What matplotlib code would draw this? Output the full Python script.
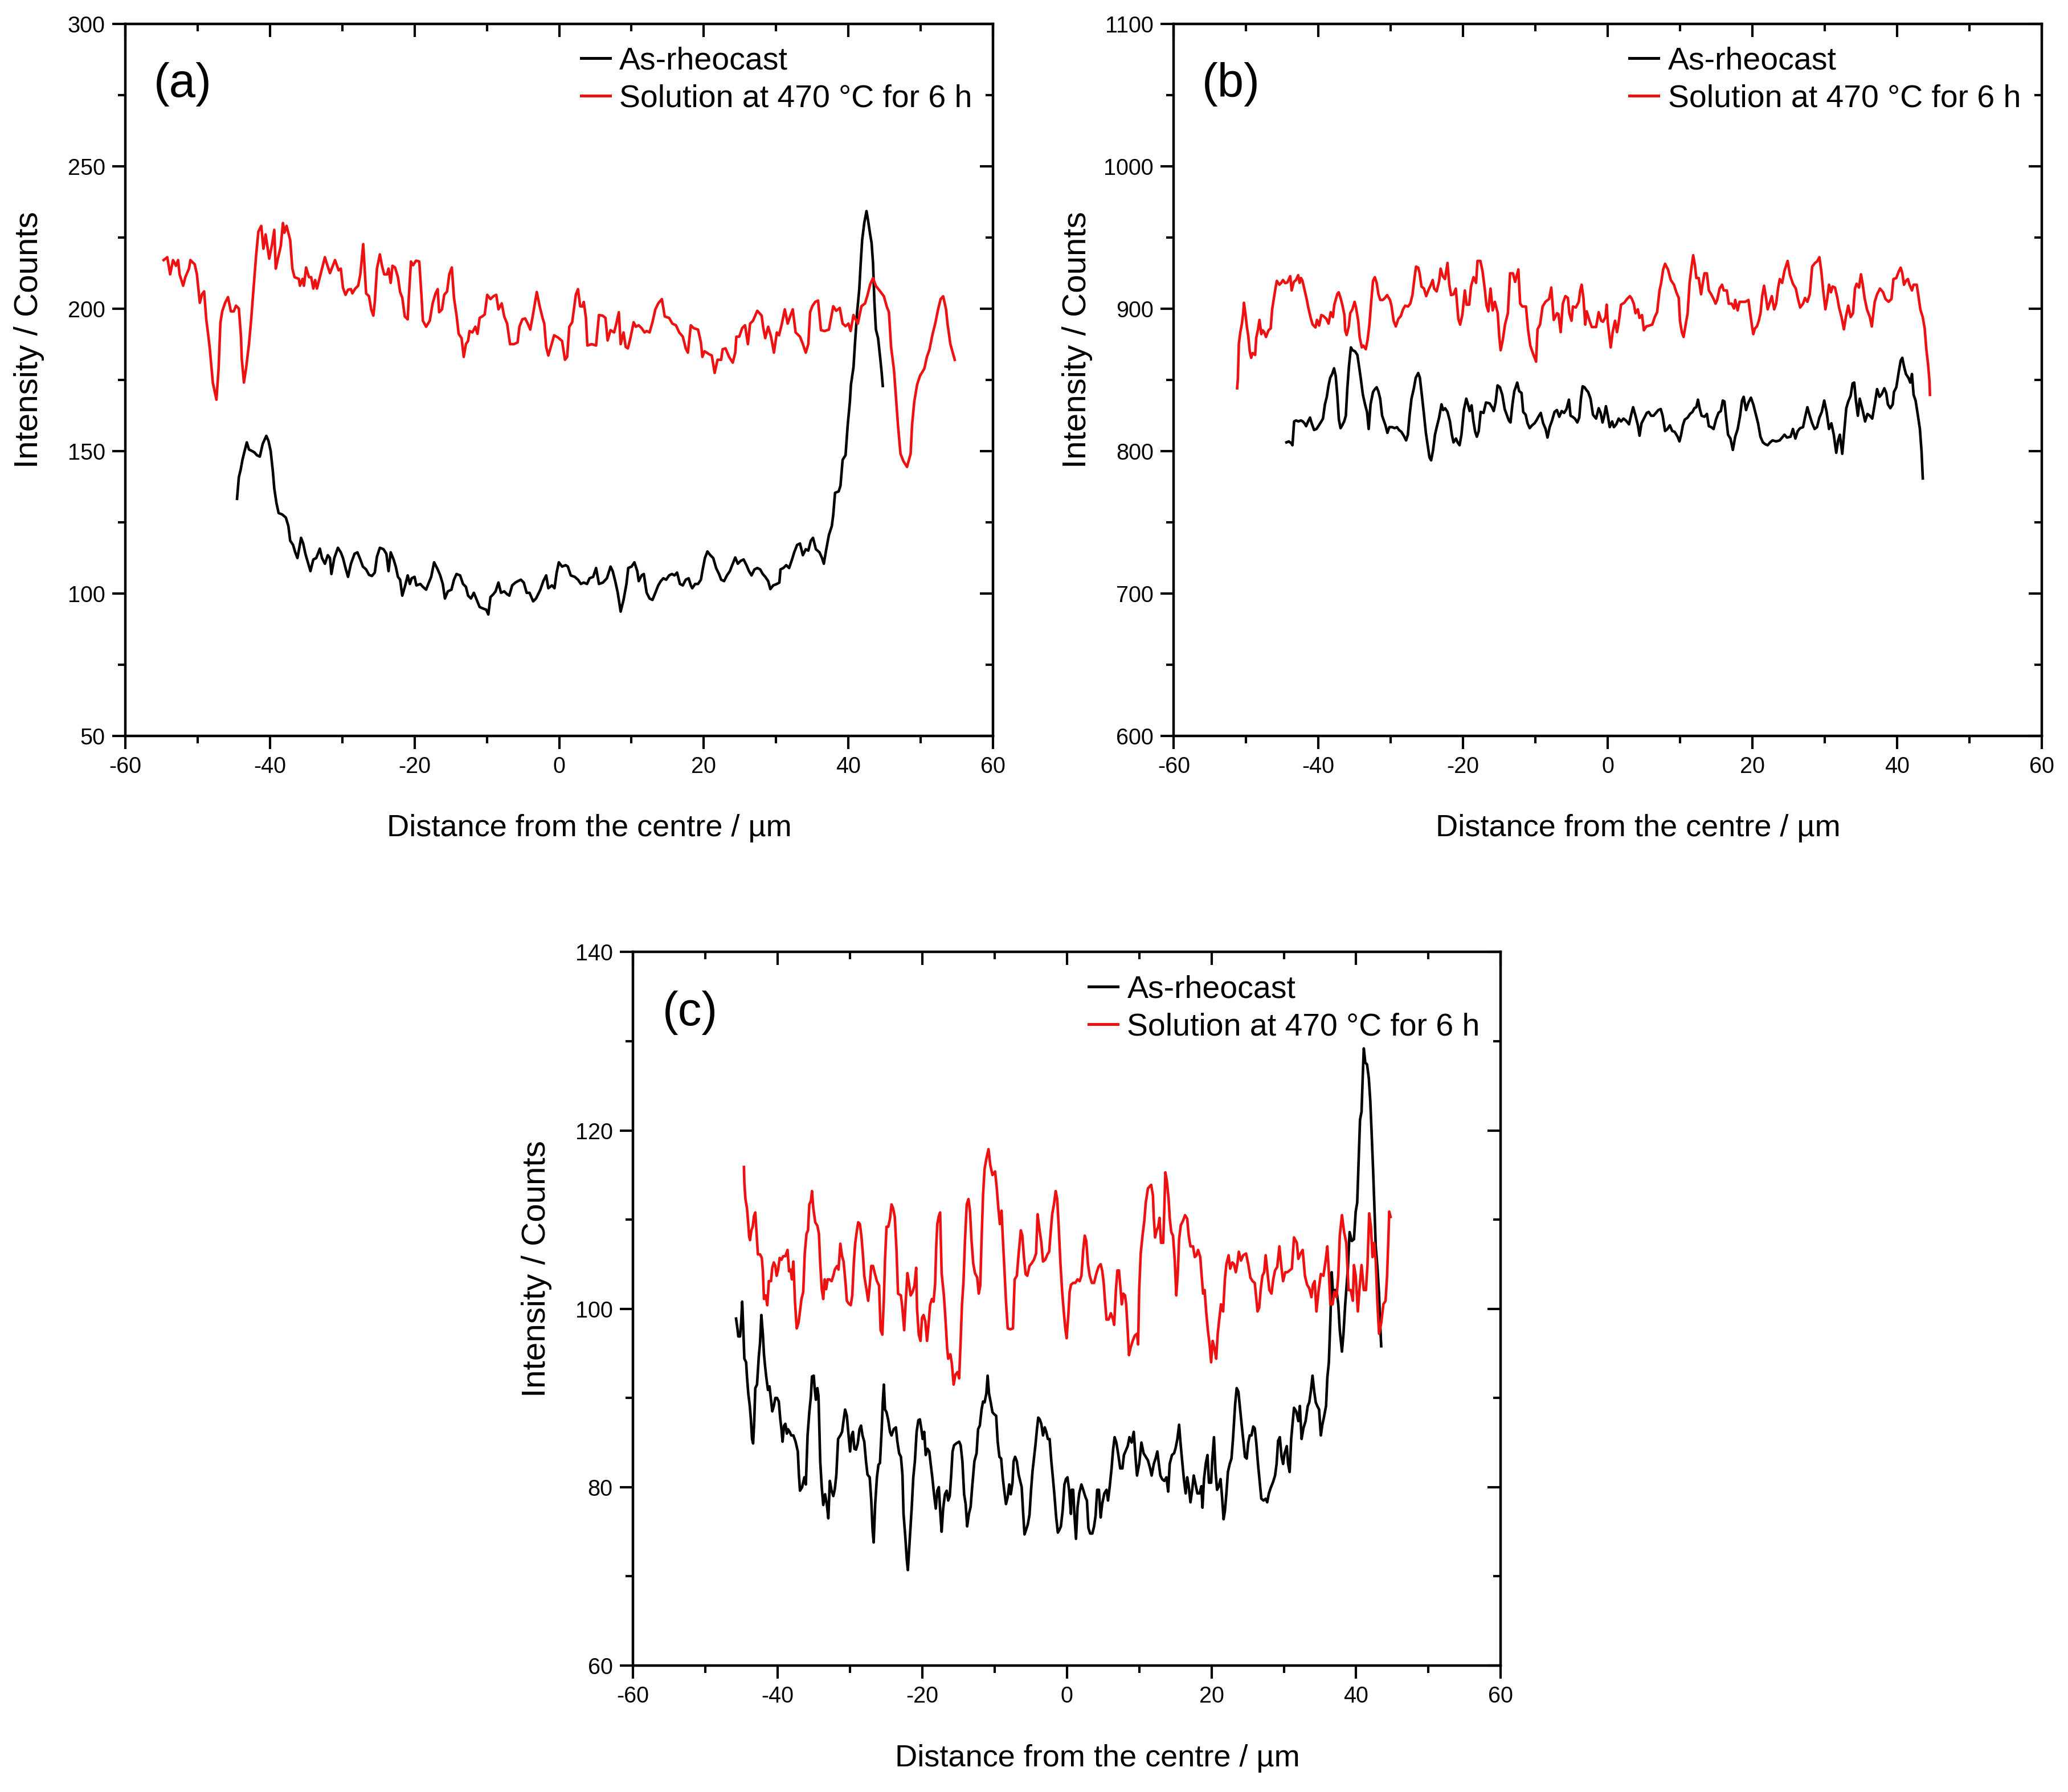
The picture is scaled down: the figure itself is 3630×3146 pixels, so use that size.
import matplotlib
matplotlib.use('Agg')
import matplotlib.pyplot as plt
from matplotlib.ticker import MultipleLocator

plt.rcParams['font.family'] = ['Liberation Sans', 'DejaVu Sans']
plt.rcParams['axes.unicode_minus'] = False

# ---------------- data (distance / um, intensity / counts) ----------------
a_black = [(-44.55,133.2),(-44.3,140.8),(-44.05,143.4),(-43.8,146.9),(-43.5,150.0),(-43.2,153.0),(-42.9,150.5),(-42.5,150.0),(-42.15,149.5),(-41.8,148.5),(-41.4,148.0),(-41.0,152.5),(-40.5,155.3),(-40.2,153.5),(-39.9,150.0),(-39.6,142.9),(-39.4,136.8),(-39.1,131.7),(-38.8,128.2),(-38.3,127.7),(-37.8,126.6),(-37.45,123.6),(-37.2,118.5),(-36.8,117.0),(-36.5,114.4),(-36.2,112.4),(-35.9,116.5),(-35.7,119.5),(-35.4,117.5),(-35.1,113.9),(-34.7,110.4),(-34.4,107.8),(-34.0,111.9),(-33.6,112.4),(-33.1,115.7),(-32.8,112.4),(-32.4,110.4),(-32.0,113.4),(-31.7,112.4),(-31.5,106.8),(-31.1,112.4),(-30.6,116.0),(-30.2,114.4),(-29.9,112.4),(-29.55,108.9),(-29.2,105.8),(-28.8,110.4),(-28.3,113.9),(-27.9,114.4),(-27.5,111.9),(-27.15,109.4),(-26.7,108.4),(-26.3,106.5),(-25.9,106.1),(-25.5,107.3),(-25.2,112.9),(-24.8,116.0),(-24.3,115.5),(-23.9,113.9),(-23.6,107.8),(-23.3,114.4),(-22.9,111.9),(-22.6,109.4),(-22.3,105.8),(-22.0,104.8),(-21.7,99.2),(-21.35,102.3),(-20.95,106.3),(-20.65,103.3),(-20.4,105.3),(-20.0,105.8),(-19.75,102.8),(-19.2,103.3),(-18.85,102.3),(-18.4,101.3),(-18.1,103.3),(-17.7,105.8),(-17.3,110.9),(-16.8,108.4),(-16.45,106.3),(-16.1,103.3),(-15.8,98.2),(-15.4,100.7),(-14.9,101.3),(-14.55,104.8),(-14.2,106.8),(-13.7,106.3),(-13.3,103.3),(-12.9,102.3),(-12.6,99.2),(-12.2,98.2),(-11.8,100.2),(-11.4,97.7),(-11.0,95.2),(-10.45,94.6),(-10.1,94.3),(-9.8,92.6),(-9.5,98.7),(-9.1,99.7),(-8.8,100.7),(-8.4,103.8),(-8.05,100.2),(-7.6,100.7),(-7.2,99.7),(-6.9,99.2),(-6.5,102.8),(-6.05,103.8),(-5.7,104.3),(-5.3,104.8),(-4.9,103.8),(-4.5,100.2),(-4.1,100.2),(-3.6,97.2),(-3.2,98.2),(-2.6,101.3),(-2.2,104.3),(-1.8,106.3),(-1.5,101.8),(-1.0,102.8),(-0.65,101.8),(-0.35,107.3),(-0.05,110.9),(0.4,109.4),(0.9,109.9),(1.2,109.4),(1.6,106.3),(2.15,105.8),(2.6,104.8),(3.0,103.3),(3.4,103.8),(3.85,103.3),(4.2,105.3),(4.7,105.8),(5.1,108.9),(5.5,103.3),(6.05,103.8),(6.6,105.3),(7.1,109.4),(7.4,107.8),(7.75,104.3),(8.1,100.2),(8.5,93.6),(8.9,97.7),(9.3,103.3),(9.55,108.9),(10.0,109.4),(10.4,110.9),(10.8,107.8),(11.0,104.3),(11.4,106.3),(11.7,106.8),(12.1,100.2),(12.5,98.2),(12.9,97.7),(13.3,100.2),(13.7,102.8),(14.05,104.3),(14.4,105.3),(14.8,104.8),(15.2,106.3),(15.6,106.8),(15.95,106.3),(16.3,107.3),(16.7,103.3),(17.1,102.8),(17.5,104.8),(17.9,105.3),(18.2,102.8),(18.4,101.8),(18.8,103.3),(19.2,103.3),(19.6,104.8),(19.8,107.8),(20.15,112.4),(20.5,114.7),(20.9,113.4),(21.3,112.4),(21.7,108.9),(22.1,106.8),(22.4,104.8),(22.8,104.3),(23.2,106.3),(23.6,107.8),(24.0,110.4),(24.35,112.6),(24.7,110.4),(25.1,111.4),(25.5,111.9),(25.9,109.9),(26.25,107.8),(26.6,106.3),(27.0,108.4),(27.4,108.9),(27.8,108.4),(28.15,106.8),(28.5,105.8),(28.9,104.3),(29.2,101.5),(29.6,102.8),(30.1,103.3),(30.45,103.8),(30.6,108.4),(31.0,108.9),(31.4,109.9),(31.8,108.9),(32.2,111.9),(32.5,114.4),(32.9,117.0),(33.3,117.5),(33.7,113.4),(34.1,115.5),(34.45,115.0),(34.8,118.5),(35.1,119.5),(35.5,115.5),(36.0,114.4),(36.35,112.4),(36.6,110.4),(36.9,115.0),(37.3,120.5),(37.7,123.6),(37.9,127.6),(38.15,135.3),(38.65,135.8),(38.9,137.8),(39.2,146.9),(39.6,148.5),(39.9,159.1),(40.2,167.2),(40.35,173.3),(40.7,179.4),(40.9,187.5),(41.2,198.7),(41.5,206.8),(41.7,216.0),(41.9,224.1),(42.2,230.2),(42.5,234.2),(42.7,231.2),(43.0,226.1),(43.2,223.1),(43.4,216.0),(43.6,201.8),(43.8,192.6),(44.1,189.6),(44.4,182.5),(44.6,177.4),(44.75,172.8)]

a_red = [(-54.7,217),(-54.2,218),(-53.8,212),(-53.4,217),(-53.0,215),(-52.7,217),(-52.5,212),(-52.0,208),(-51.7,211),(-51.2,214),(-51.0,217),(-50.4,215.5),(-50.1,212),(-49.7,202),(-49.4,205),(-49.1,206),(-48.8,196),(-48.5,190),(-48.3,185.5),(-47.9,174),(-47.4,168),(-47.1,179),(-46.85,195),(-46.6,199),(-46.2,202),(-45.8,204),(-45.4,199),(-45.0,199),(-44.7,201),(-44.3,200),(-44.0,190),(-43.9,182.5),(-43.6,174),(-43.3,179),(-42.9,187.5),(-42.6,196),(-42.3,206),(-41.9,219),(-41.6,227),(-41.2,229),(-40.9,221),(-40.6,226),(-40.1,217.5),(-39.7,222.6),(-39.4,227.6),(-39.2,214),(-38.9,217.5),(-38.5,222),(-38.2,230),(-38.0,226.6),(-37.7,229),(-37.2,224),(-36.9,214),(-36.6,211),(-36.0,210.4),(-35.85,208),(-35.5,210.4),(-35.3,208),(-35.0,214.4),(-34.6,211),(-34.3,211),(-34.0,207),(-33.75,210),(-33.5,207),(-33.2,210),(-32.8,214),(-32.4,218),(-32.1,215.5),(-31.7,212.4),(-31.3,215),(-31.0,217),(-30.5,213.4),(-30.2,214),(-29.9,207.3),(-29.55,204.8),(-29.2,206.6),(-28.8,206.8),(-28.6,205.3),(-28.2,207),(-27.8,208),(-27.5,212),(-27.1,222.6),(-26.9,214),(-26.7,205.3),(-26.3,204.3),(-26.0,199.7),(-25.7,197.5),(-25.5,202.3),(-25.2,214),(-24.8,219),(-24.5,215),(-24.2,212),(-23.8,212),(-23.6,214),(-23.3,209),(-23.05,215),(-22.7,214.4),(-22.3,211),(-22.0,205.8),(-21.7,203.8),(-21.35,197.2),(-20.95,196.2),(-20.8,203.8),(-20.5,216.5),(-20.2,215.2),(-19.8,216.8),(-19.35,216.5),(-19.05,204.8),(-18.85,195.7),(-18.4,193.6),(-17.9,195.7),(-17.5,201.8),(-17.1,205.3),(-16.8,206.8),(-16.6,198.7),(-16.2,199.7),(-15.9,204.8),(-15.5,206),(-15.2,212),(-14.85,214.4),(-14.55,203.8),(-14.2,197.7),(-13.9,191.1),(-13.5,189.6),(-13.2,183),(-12.9,187.5),(-12.6,188.6),(-12.4,192.1),(-12.0,191.6),(-11.6,193.6),(-11.3,191.1),(-11.0,196.7),(-10.65,197.2),(-10.3,197.9),(-9.95,204.8),(-9.5,203.3),(-9.1,204.3),(-8.7,204.8),(-8.4,199.7),(-7.95,201.8),(-7.6,197.2),(-7.2,194.7),(-6.8,187.5),(-6.25,187.5),(-5.75,188.1),(-5.5,193.6),(-5.1,196.2),(-4.7,196.5),(-4.35,194.7),(-4.0,192.6),(-3.6,198.2),(-3.1,205.8),(-2.7,200.8),(-2.3,196.7),(-2.06,194.7),(-1.8,186.5),(-1.5,183.5),(-1.1,187),(-0.7,190.6),(-0.15,189.8),(0.4,188.6),(0.8,182),(1.1,183),(1.4,193.6),(1.8,195.2),(2.3,204.8),(2.6,206.8),(2.9,200.8),(3.2,200.7),(3.4,202.3),(3.7,196.7),(3.9,187),(4.5,187.5),(5.1,187),(5.5,197.7),(6.0,197.5),(6.4,196.7),(6.7,188.8),(7.1,192.4),(7.6,191.6),(7.9,194.7),(8.25,198.7),(8.5,187.5),(8.9,191.6),(9.2,186.5),(9.5,186),(9.85,189.6),(10.3,195.2),(10.6,193.6),(11.0,194.1),(11.4,193.1),(11.8,191.6),(12.1,192.1),(12.5,191.6),(12.9,195.2),(13.3,199.7),(13.7,201.8),(14.2,203.3),(14.6,197.2),(15.2,196.7),(15.65,194.7),(16.15,194.1),(16.6,191.6),(17.1,190.1),(17.5,186),(17.8,184.5),(18.2,194.1),(18.6,193.1),(19.2,192.6),(19.6,188.1),(19.8,183),(20.1,185),(20.7,184),(21.1,183.5),(21.5,177.4),(21.9,182),(22.4,182),(22.6,185.7),(23.0,186),(23.5,183),(24.0,181),(24.35,184.5),(24.5,190.1),(24.9,190.1),(25.3,193.1),(25.7,194.1),(26.1,187.5),(26.4,194.7),(26.8,195.7),(27.4,199.2),(28.0,197.5),(28.2,193.6),(28.5,189.6),(28.9,193.6),(29.3,190.1),(29.7,184.5),(30.1,191.6),(30.4,190.6),(30.8,194.7),(31.2,199.7),(31.6,194.7),(32.0,197.7),(32.3,199.7),(32.7,191.6),(33.3,190.1),(33.7,187.5),(34.1,184.5),(34.45,187.5),(34.7,198.7),(35.0,200.8),(35.4,202.3),(35.8,202.8),(36.2,192.4),(36.7,192.1),(37.3,192.6),(37.6,196.7),(37.9,200.8),(38.3,199.2),(38.8,200.2),(39.2,194.7),(39.6,193.8),(40.0,194.7),(40.3,192.1),(40.7,197.7),(41.3,194.7),(41.8,200.8),(42.3,201.8),(42.65,204.8),(43.0,208.4),(43.4,210.7),(43.8,207.9),(44.4,206),(44.9,204.3),(45.3,200.7),(45.6,198.7),(45.9,186.5),(46.3,178.4),(46.65,166.2),(46.85,159.1),(47.2,149),(47.6,146.4),(48.1,144.4),(48.6,149),(48.8,159.1),(49.1,167.2),(49.5,173.3),(49.9,176.4),(50.5,178.9),(50.85,183),(51.2,185.5),(51.6,190.6),(52.0,194.7),(52.4,199.7),(52.75,203.3),(53.1,204.3),(53.5,199.7),(53.7,194.7),(54.1,187.5),(54.7,182)]

b_black = [(-44.42,806.0),(-44.09,806.7),(-43.76,805.4),(-43.59,804.0),(-43.36,820.7),(-43.09,821.4),(-42.76,820.7),(-42.43,821.4),(-42.16,820.7),(-41.93,819.4),(-41.7,817.4),(-41.43,820.7),(-41.16,823.4),(-40.93,819.4),(-40.6,814.7),(-40.27,815.4),(-39.93,818.0),(-39.6,820.7),(-39.37,822.7),(-39.1,832.7),(-38.84,838.0),(-38.6,846.0),(-38.37,851.4),(-38.1,854.0),(-37.84,858.0),(-37.61,852.7),(-37.37,838.0),(-37.17,822.0),(-36.94,816.0),(-36.71,818.0),(-36.44,820.7),(-36.21,824.7),(-36.01,843.4),(-35.78,859.4),(-35.51,872.7),(-35.28,870.7),(-34.95,870.0),(-34.61,867.4),(-34.38,859.4),(-34.12,850.0),(-33.85,839.4),(-33.52,832.0),(-33.28,827.4),(-33.05,815.4),(-32.79,832.7),(-32.45,841.4),(-32.19,843.4),(-31.95,844.7),(-31.72,842.0),(-31.46,836.7),(-31.19,824.7),(-30.96,821.4),(-30.73,818.0),(-30.46,812.7),(-30.19,816.7),(-29.79,816.7),(-29.46,816.0),(-29.13,816.7),(-28.86,814.7),(-28.53,813.4),(-28.2,810.7),(-27.87,807.4),(-27.63,811.4),(-27.4,824.7),(-27.13,836.7),(-26.8,844.0),(-26.54,851.4),(-26.2,854.7),(-25.97,851.4),(-25.64,836.7),(-25.41,826.0),(-25.14,812.7),(-24.87,803.4),(-24.64,795.4),(-24.41,793.4),(-24.14,800.7),(-23.88,811.4),(-23.64,816.7),(-23.31,823.4),(-22.98,832.7),(-22.75,828.7),(-22.48,830.0),(-22.15,827.4),(-21.81,820.7),(-21.55,811.4),(-21.32,806.0),(-20.98,808.7),(-20.75,806.0),(-20.48,804.0),(-20.22,811.4),(-19.89,828.7),(-19.55,836.7),(-19.32,832.7),(-19.09,828.0),(-18.82,832.0),(-18.56,820.7),(-18.32,813.4),(-18.09,810.0),(-17.83,814.0),(-17.56,827.4),(-17.16,826.7),(-16.83,834.0),(-16.33,833.4),(-16.0,830.7),(-15.76,828.0),(-15.5,834.0),(-15.23,846.0),(-14.9,844.7),(-14.57,839.4),(-14.24,829.4),(-14.0,826.0),(-13.67,821.4),(-13.44,820.0),(-13.17,832.7),(-12.91,842.0),(-12.67,845.4),(-12.51,848.0),(-12.24,842.0),(-11.91,840.7),(-11.68,827.4),(-11.34,825.4),(-11.08,819.4),(-10.78,816.0),(-10.45,818.0),(-10.11,819.4),(-9.85,821.4),(-9.58,824.0),(-9.25,826.7),(-8.92,819.4),(-8.58,815.4),(-8.32,809.4),(-8.02,816.7),(-7.69,821.4),(-7.35,827.4),(-7.02,828.7),(-6.69,824.0),(-6.36,828.0),(-6.02,826.7),(-5.69,829.4),(-5.36,836.0),(-5.13,824.7),(-4.86,824.0),(-4.53,822.7),(-4.2,820.0),(-3.93,823.4),(-3.7,836.7),(-3.46,845.4),(-3.2,844.7),(-2.93,842.7),(-2.7,841.4),(-2.37,836.7),(-2.03,825.4),(-1.6,822.7),(-1.24,830.0),(-0.97,826.7),(-0.71,820.0),(-0.47,824.7),(-0.24,831.4),(0.02,824.7),(0.29,816.7),(0.62,820.7),(0.86,816.7),(1.19,818.7),(1.52,822.7),(1.85,820.7),(2.19,822.7),(2.52,821.4),(2.95,818.7),(3.28,826.0),(3.52,830.7),(3.85,824.7),(4.18,818.0),(4.41,810.7),(4.68,819.4),(5.01,822.7),(5.41,826.7),(5.68,827.4),(6.01,824.7),(6.34,824.7),(6.67,826.7),(7.01,828.7),(7.34,829.4),(7.6,824.7),(7.94,814.0),(8.27,815.4),(8.6,818.0),(8.93,814.0),(9.27,813.4),(9.67,810.0),(9.93,806.7),(10.16,811.4),(10.4,818.0),(10.66,822.0),(11.06,823.4),(11.39,826.0),(11.73,827.4),(11.99,830.0),(12.26,830.7),(12.49,836.0),(12.72,830.0),(12.99,824.7),(13.39,824.0),(13.72,826.0),(13.99,817.4),(14.32,816.7),(14.65,815.4),(14.98,822.0),(15.32,826.7),(15.65,828.0),(15.92,835.4),(16.15,834.7),(16.38,823.4),(16.65,811.4),(16.98,808.7),(17.31,800.7),(17.64,810.0),(17.98,815.4),(18.31,824.7),(18.58,835.4),(18.81,838.0),(19.14,828.7),(19.47,834.0),(19.81,837.4),(20.14,832.7),(20.47,826.0),(20.8,819.4),(21.13,810.0),(21.47,806.0),(21.8,804.7),(22.13,804.0),(22.46,806.0),(22.8,807.4),(23.3,806.7),(23.79,807.4),(24.13,809.4),(24.46,811.4),(24.79,809.4),(25.29,810.0),(25.62,815.4),(25.96,808.7),(26.29,814.0),(26.62,816.0),(27.02,816.7),(27.29,823.4),(27.62,830.7),(27.95,824.7),(28.28,819.4),(28.62,815.4),(28.95,816.7),(29.28,823.4),(29.61,827.4),(29.95,835.4),(30.28,827.4),(30.61,815.4),(30.94,819.4),(31.27,811.4),(31.61,798.7),(31.87,807.4),(32.11,811.4),(32.44,798.0),(32.77,816.7),(33.0,830.0),(33.27,834.7),(33.6,838.7),(33.87,847.4),(34.1,848.0),(34.33,835.4),(34.6,824.7),(34.86,836.7),(35.26,828.7),(35.6,820.7),(35.93,826.0),(36.26,824.7),(36.59,822.7),(36.93,832.7),(37.26,843.4),(37.59,838.0),(37.92,840.0),(38.26,844.0),(38.52,840.7),(38.75,832.7),(39.09,830.0),(39.42,832.7),(39.59,841.4),(39.92,844.7),(40.25,855.4),(40.52,863.4),(40.75,865.4),(40.98,859.4),(41.25,854.0),(41.58,851.4),(41.85,848.0),(42.08,854.0),(42.31,839.4),(42.58,835.4),(42.91,824.7),(43.18,815.4),(43.41,799.4),(43.58,780.7)]

b_red = [(-51.24,844.0),(-51.14,850.7),(-51.0,875.4),(-50.8,883.4),(-50.6,888.7),(-50.4,896.7),(-50.3,904.0),(-50.1,896.7),(-49.9,887.4),(-49.7,880.7),(-49.5,870.0),(-49.3,865.4),(-49.1,868.7),(-48.75,867.4),(-48.6,879.4),(-48.35,885.4),(-48.15,892.0),(-47.9,882.0),(-47.7,884.7),(-47.5,883.4),(-47.25,880.0),(-46.9,884.7),(-46.6,886.0),(-46.4,899.4),(-46.15,907.4),(-45.9,915.4),(-45.75,919.4),(-45.4,916.7),(-45.15,918.0),(-44.9,920.0),(-44.6,917.8),(-44.3,918.3),(-43.9,922.7),(-43.7,912.7),(-43.4,918.7),(-43.1,920.0),(-42.8,923.4),(-42.6,918.0),(-42.4,921.4),(-42.2,919.4),(-41.9,912.7),(-41.6,906.0),(-41.4,900.7),(-41.1,894.0),(-40.8,888.7),(-40.4,886.7),(-40.2,892.0),(-39.9,888.0),(-39.6,895.4),(-39.3,894.7),(-38.9,892.7),(-38.6,889.4),(-38.3,897.4),(-38.0,894.0),(-37.8,902.7),(-37.4,910.0),(-37.2,911.4),(-36.9,906.7),(-36.7,902.7),(-36.4,895.4),(-36.3,884.7),(-36.1,881.4),(-35.8,887.4),(-35.6,896.7),(-35.3,899.4),(-35.0,904.7),(-34.8,900.7),(-34.5,891.4),(-34.3,880.0),(-34.0,872.7),(-33.8,874.0),(-33.45,871.4),(-33.2,878.0),(-32.95,888.7),(-32.7,904.7),(-32.45,919.4),(-32.2,922.0),(-31.95,918.0),(-31.7,910.0),(-31.45,906.0),(-31.1,906.0),(-30.8,907.4),(-30.5,909.4),(-30.1,906.0),(-29.9,902.0),(-29.6,891.4),(-29.3,887.4),(-28.95,892.7),(-28.6,894.7),(-28.3,899.4),(-28.0,902.0),(-27.6,901.4),(-27.3,903.4),(-27.0,909.4),(-26.75,920.0),(-26.5,929.4),(-26.2,928.7),(-26.0,924.7),(-25.75,915.4),(-25.4,914.0),(-25.1,908.7),(-24.75,913.4),(-24.5,916.0),(-24.2,920.0),(-24.0,914.0),(-23.65,912.0),(-23.3,919.4),(-23.1,928.0),(-22.8,922.7),(-22.5,920.7),(-22.15,932.0),(-21.9,916.7),(-21.65,909.4),(-21.3,910.0),(-21.0,914.0),(-20.65,892.7),(-20.4,888.7),(-20.1,895.4),(-19.75,912.7),(-19.5,902.7),(-19.15,902.7),(-18.9,915.4),(-18.55,922.0),(-18.2,918.0),(-18.0,933.4),(-17.6,933.4),(-17.3,926.0),(-17.0,914.0),(-16.75,902.0),(-16.5,898.0),(-16.2,914.0),(-15.9,898.7),(-15.6,904.7),(-15.2,896.7),(-15.0,880.7),(-14.8,870.7),(-14.5,878.0),(-14.2,888.7),(-13.8,896.7),(-13.5,924.7),(-13.1,924.7),(-12.8,918.7),(-12.35,927.4),(-12.1,903.4),(-11.8,901.4),(-11.3,901.4),(-11.0,884.7),(-10.7,874.0),(-10.35,868.7),(-9.9,862.7),(-9.7,885.4),(-9.35,888.7),(-9.0,901.4),(-8.6,904.7),(-8.1,906.7),(-7.8,914.7),(-7.45,892.0),(-7.0,896.7),(-6.8,896.0),(-6.5,883.4),(-6.2,903.4),(-5.85,908.7),(-5.5,907.4),(-5.3,896.7),(-5.0,891.4),(-4.8,901.4),(-4.4,900.7),(-4.0,904.7),(-3.8,912.7),(-3.6,916.7),(-3.35,907.4),(-3.1,888.7),(-2.9,898.0),(-2.5,891.4),(-2.2,887.0),(-1.6,887.0),(-1.24,897.4),(-0.9,891.4),(-0.64,890.7),(-0.3,894.0),(-0.14,902.7),(0.02,890.0),(0.3,878.0),(0.42,872.7),(0.69,883.4),(1.02,891.4),(1.29,883.4),(1.52,890.0),(1.85,902.7),(2.29,904.0),(2.68,906.7),(3.08,908.7),(3.35,906.7),(3.61,903.4),(3.85,896.7),(4.18,899.4),(4.41,893.4),(4.75,895.4),(5.01,884.7),(5.34,887.4),(5.74,888.0),(6.17,888.7),(6.51,894.0),(6.84,897.4),(7.17,912.7),(7.4,918.0),(7.67,927.4),(7.94,931.4),(8.34,927.4),(8.73,920.0),(9.17,916.7),(9.5,911.4),(9.83,907.4),(10.0,891.4),(10.26,883.4),(10.5,880.0),(10.83,890.0),(11.06,896.7),(11.33,918.0),(11.59,928.7),(11.83,937.4),(12.06,930.7),(12.26,921.4),(12.59,921.4),(12.92,910.0),(13.16,918.0),(13.39,924.7),(13.72,924.7),(13.99,912.7),(14.32,910.0),(14.65,906.7),(14.92,903.4),(15.15,906.0),(15.48,914.0),(15.82,916.7),(16.05,912.7),(16.48,912.7),(16.75,903.4),(17.15,903.4),(17.48,900.0),(17.64,906.0),(17.98,898.7),(18.24,904.7),(18.64,904.7),(19.04,904.7),(19.47,906.0),(19.71,896.7),(19.97,887.4),(20.14,882.0),(20.37,886.0),(20.64,887.4),(20.9,891.4),(21.14,896.7),(21.37,908.7),(21.63,916.0),(21.9,907.4),(22.13,899.4),(22.46,904.7),(22.7,908.7),(23.03,899.4),(23.3,903.4),(23.56,914.0),(23.8,920.7),(24.13,918.0),(24.46,926.7),(24.89,933.4),(25.22,923.4),(25.62,917.4),(26.02,914.0),(26.29,907.4),(26.62,900.7),(27.02,903.4),(27.29,907.4),(27.62,904.7),(27.95,910.0),(28.28,929.4),(28.68,932.0),(28.95,933.0),(29.28,936.0),(29.55,926.0),(29.78,914.0),(30.11,899.4),(30.34,906.0),(30.61,916.7),(30.88,911.4),(31.11,915.4),(31.44,914.7),(31.77,907.4),(32.0,900.7),(32.34,894.0),(32.67,885.4),(32.94,894.0),(33.27,902.0),(33.6,894.0),(33.93,896.7),(34.2,914.0),(34.43,917.4),(34.76,914.7),(35.03,924.0),(35.26,917.4),(35.53,907.4),(35.86,899.4),(36.26,894.0),(36.53,887.4),(36.93,904.7),(37.26,910.0),(37.66,914.0),(38.09,911.4),(38.42,906.7),(38.85,904.7),(39.25,906.7),(39.52,920.7),(39.92,921.4),(40.25,926.0),(40.52,928.7),(40.75,924.7),(40.98,916.7),(41.25,919.4),(41.52,920.7),(41.75,916.7),(42.08,912.7),(42.31,916.7),(42.74,916.7),(42.98,908.7),(43.24,899.4),(43.57,894.0),(43.84,886.0),(44.07,871.4),(44.31,860.7),(44.51,848.7),(44.57,839.4)]

c_black = [(-45.75,98.9),(-45.56,97.8),(-45.44,96.9),(-45.2,96.9),(-45.05,98.4),(-44.9,100.8),(-44.75,97.7),(-44.6,94.4),(-44.36,94.0),(-44.24,92.4),(-44.06,90.5),(-43.85,89.1),(-43.7,87.6),(-43.54,85.4),(-43.39,84.9),(-43.24,87.3),(-43.09,91.1),(-42.85,91.5),(-42.73,93.1),(-42.61,94.6),(-42.43,96.2),(-42.25,99.3),(-42.04,97.1),(-41.89,94.9),(-41.74,93.6),(-41.58,92.4),(-41.34,90.9),(-41.13,91.3),(-40.92,89.8),(-40.74,88.5),(-40.53,89.1),(-40.32,90.0),(-40.08,90.0),(-39.84,89.6),(-39.63,87.6),(-39.47,86.5),(-39.32,85.1),(-39.11,86.9),(-38.93,87.1),(-38.72,86.0),(-38.57,86.5),(-38.33,86.2),(-38.12,85.8),(-37.82,85.8),(-37.52,85.1),(-37.21,84.0),(-37.06,81.4),(-36.91,79.6),(-36.61,80.0),(-36.31,81.1),(-36.1,80.3),(-35.86,85.8),(-35.62,88.4),(-35.4,90.2),(-35.25,92.4),(-35.01,92.5),(-34.86,90.9),(-34.71,89.8),(-34.5,91.1),(-34.35,90.2),(-34.11,82.9),(-33.9,80.0),(-33.69,78.0),(-33.44,79.2),(-33.2,78.1),(-32.99,76.5),(-32.78,80.7),(-32.54,79.6),(-32.3,79.0),(-32.09,79.8),(-31.88,81.4),(-31.64,85.4),(-31.33,85.8),(-31.09,86.2),(-30.88,87.5),(-30.67,88.7),(-30.43,88.0),(-30.19,85.8),(-29.98,84.0),(-29.77,85.8),(-29.59,86.2),(-29.38,84.3),(-29.16,84.2),(-28.92,84.9),(-28.68,86.5),(-28.47,86.9),(-28.26,85.8),(-28.02,85.1),(-27.78,82.9),(-27.57,81.4),(-27.27,81.1),(-27.05,78.5),(-26.87,75.2),(-26.72,73.8),(-26.51,78.1),(-26.27,81.1),(-26.06,82.5),(-25.85,82.7),(-25.61,86.5),(-25.46,89.5),(-25.31,91.5),(-25.15,88.7),(-24.94,88.4),(-24.7,87.5),(-24.46,86.2),(-24.25,85.8),(-23.95,86.5),(-23.65,86.7),(-23.44,85.1),(-23.2,83.8),(-22.95,83.4),(-22.74,81.4),(-22.59,77.0),(-22.35,74.5),(-22.14,71.9),(-21.99,70.7),(-21.84,72.7),(-21.69,74.8),(-21.45,77.8),(-21.24,81.1),(-21.02,82.9),(-20.78,86.2),(-20.54,87.5),(-20.33,87.6),(-20.12,86.5),(-19.94,85.4),(-19.73,86.2),(-19.52,83.6),(-19.28,84.3),(-19.03,84.0),(-18.82,82.5),(-18.61,81.1),(-18.37,79.2),(-18.13,77.6),(-17.92,79.6),(-17.71,80.0),(-17.47,76.7),(-17.32,75.0),(-17.11,77.6),(-16.86,79.2),(-16.62,79.6),(-16.41,78.5),(-16.2,79.0),(-16.02,81.1),(-15.81,84.0),(-15.6,84.7),(-15.3,84.9),(-14.9,85.1),(-14.69,84.7),(-14.45,82.9),(-14.21,79.2),(-14.0,78.1),(-13.79,75.6),(-13.55,77.0),(-13.31,77.8),(-13.1,80.0),(-12.79,82.9),(-12.49,83.8),(-12.28,86.5),(-12.04,86.9),(-11.8,88.7),(-11.59,89.6),(-11.38,89.5),(-11.14,90.5),(-10.96,92.5),(-10.77,90.5),(-10.53,89.5),(-10.29,88.4),(-10.08,88.2),(-9.78,88.0),(-9.57,85.1),(-9.33,83.4),(-9.09,83.2),(-8.87,81.1),(-8.66,79.6),(-8.42,78.1),(-8.18,78.9),(-7.97,80.3),(-7.76,79.2),(-7.52,80.5),(-7.37,82.9),(-7.16,83.4),(-6.92,82.9),(-6.67,81.4),(-6.46,80.7),(-6.25,80.0),(-6.07,77.4),(-5.86,74.7),(-5.65,75.2),(-5.41,75.8),(-5.17,76.9),(-4.96,79.6),(-4.75,81.8),(-4.56,83.2),(-4.35,84.7),(-4.14,86.5),(-3.96,87.8),(-3.75,87.6),(-3.54,87.1),(-3.3,85.8),(-3.06,86.7),(-2.85,86.2),(-2.63,85.4),(-2.39,85.4),(-2.15,82.9),(-1.94,81.1),(-1.73,79.2),(-1.49,76.7),(-1.25,74.9),(-1.04,75.2),(-0.83,75.6),(-0.58,77.4),(-0.34,80.3),(-0.13,80.9),(0.08,81.1),(0.32,79.6),(0.56,77.0),(0.66,79.7),(0.87,79.7),(1.05,76.8),(1.26,74.2),(1.47,77.7),(1.71,79.3),(2.01,80.3),(2.26,79.7),(2.56,78.9),(2.77,78.5),(2.98,75.4),(3.22,74.8),(3.52,74.8),(3.76,75.6),(3.97,76.8),(4.19,79.7),(4.43,79.7),(4.67,76.6),(4.88,78.1),(5.18,79.3),(5.48,79.7),(5.69,78.5),(5.93,80.1),(6.18,82.1),(6.39,84.2),(6.6,85.6),(6.84,85.0),(7.08,83.8),(7.38,82.1),(7.68,82.1),(7.89,83.6),(8.2,84.2),(8.41,84.6),(8.65,85.6),(8.95,85.0),(9.25,86.2),(9.49,83.4),(9.7,81.3),(10.0,82.6),(10.31,85.0),(10.61,83.8),(10.91,83.4),(11.21,83.0),(11.51,82.1),(11.72,81.3),(12.02,82.6),(12.26,83.2),(12.51,84.0),(12.72,82.6),(12.93,81.3),(13.17,80.9),(13.47,80.7),(13.77,81.1),(14.01,79.5),(14.22,82.6),(14.53,83.6),(14.83,83.8),(15.04,84.4),(15.28,85.4),(15.52,87.0),(15.73,84.8),(15.94,83.0),(16.18,80.9),(16.43,79.3),(16.64,81.1),(16.85,80.1),(17.09,78.3),(17.33,79.7),(17.54,81.3),(17.75,80.5),(18.05,79.3),(18.35,79.3),(18.6,80.1),(18.75,77.7),(18.96,80.9),(19.2,82.6),(19.44,83.6),(19.65,80.5),(19.95,80.5),(20.1,83.0),(20.34,85.6),(20.56,81.7),(20.77,79.7),(21.01,80.1),(21.25,80.9),(21.46,78.9),(21.67,76.4),(21.85,77.3),(22.06,79.3),(22.27,81.7),(22.52,82.6),(22.76,83.2),(22.97,85.4),(23.12,87.4),(23.27,89.3),(23.48,91.1),(23.72,90.7),(23.96,88.7),(24.17,87.0),(24.38,85.4),(24.63,83.4),(24.87,83.2),(25.08,85.0),(25.29,85.8),(25.53,85.8),(25.77,86.8),(25.98,86.6),(26.19,85.0),(26.43,82.6),(26.68,80.5),(26.89,78.7),(27.19,78.5),(27.49,78.7),(27.7,78.3),(27.94,79.3),(28.18,79.9),(28.48,80.5),(28.79,81.3),(29.0,82.6),(29.21,85.2),(29.45,85.6),(29.69,83.4),(29.9,82.6),(30.11,83.8),(30.41,84.6),(30.59,82.6),(30.81,81.7),(31.02,85.4),(31.2,87.0),(31.41,88.9),(31.71,88.5),(32.01,87.4),(32.22,89.1),(32.46,85.4),(32.71,86.6),(33.01,87.4),(33.31,89.1),(33.52,89.5),(33.73,90.7),(33.97,92.5),(34.21,90.7),(34.42,89.5),(34.63,89.1),(34.88,88.7),(35.12,85.8),(35.33,87.0),(35.54,87.8),(35.84,89.1),(36.02,92.3),(36.23,94.0),(36.44,98.8),(36.62,104.1),(36.84,101.3),(37.05,102.1),(37.29,102.1),(37.53,100.5),(37.74,97.6),(38.04,95.2),(38.25,97.2),(38.49,100.5),(38.64,102.1),(38.86,104.5),(39.1,108.6),(39.4,107.6),(39.7,107.8),(39.94,110.9),(40.15,111.9),(40.36,116.8),(40.54,121.2),(40.75,122.1),(40.9,125.7),(41.06,129.2),(41.27,127.6),(41.51,127.4),(41.75,125.9),(41.96,123.3),(42.17,119.2),(42.35,115.5),(42.56,110.7),(42.71,107.0),(42.96,104.5),(43.17,101.7),(43.32,98.4),(43.47,95.8)]

c_red = [(-44.66,115.9),(-44.6,114.1),(-44.45,112.3),(-44.24,111.3),(-44.06,109.5),(-43.94,108.1),(-43.82,107.7),(-43.63,108.8),(-43.45,109.2),(-43.27,110.4),(-43.09,110.8),(-42.91,108.4),(-42.73,106.1),(-42.43,106.1),(-42.19,105.7),(-42.04,104.2),(-41.89,101.1),(-41.65,101.5),(-41.43,100.4),(-41.22,103.1),(-40.92,103.1),(-40.74,104.6),(-40.53,105.2),(-40.32,104.8),(-40.14,103.7),(-39.93,104.4),(-39.72,105.7),(-39.47,105.5),(-39.23,105.9),(-38.93,105.9),(-38.63,106.6),(-38.42,104.2),(-38.21,104.4),(-38.03,103.3),(-37.82,105.3),(-37.6,100.8),(-37.36,97.8),(-37.12,98.4),(-36.91,99.7),(-36.7,101.1),(-36.46,101.9),(-36.25,106.2),(-36.01,108.4),(-35.8,108.8),(-35.62,111.7),(-35.4,112.1),(-35.25,113.2),(-35.07,111.3),(-34.8,109.7),(-34.5,109.3),(-34.29,108.4),(-34.11,105.1),(-33.9,102.2),(-33.69,101.1),(-33.5,103.3),(-33.29,102.2),(-33.08,103.3),(-32.84,103.3),(-32.54,103.1),(-32.3,103.7),(-32.09,104.4),(-31.79,104.8),(-31.58,104.4),(-31.33,107.3),(-31.09,105.9),(-30.88,105.3),(-30.58,102.6),(-30.43,100.9),(-30.19,100.6),(-29.89,100.4),(-29.68,101.5),(-29.47,105.1),(-29.28,107.3),(-29.07,108.6),(-28.86,109.7),(-28.62,109.5),(-28.41,108.1),(-28.17,105.7),(-28.02,103.7),(-27.72,102.2),(-27.48,100.9),(-27.27,102.6),(-27.05,104.8),(-26.81,104.8),(-26.57,104.0),(-26.27,103.1),(-25.97,102.6),(-25.76,97.6),(-25.52,97.1),(-25.31,101.1),(-25.15,105.5),(-24.94,109.2),(-24.7,109.2),(-24.46,110.1),(-24.25,111.7),(-24.04,111.3),(-23.8,110.3),(-23.56,106.6),(-23.35,101.7),(-22.95,101.5),(-22.74,100.0),(-22.5,97.6),(-22.29,100.8),(-22.05,104.0),(-21.84,102.9),(-21.6,101.5),(-21.33,101.9),(-21.08,102.6),(-20.84,104.6),(-20.72,100.0),(-20.48,97.1),(-20.24,96.4),(-20.03,99.0),(-19.82,99.3),(-19.58,98.6),(-19.34,96.4),(-19.13,98.2),(-18.92,100.4),(-18.67,101.1),(-18.43,100.8),(-18.22,102.8),(-18.07,107.0),(-17.92,109.5),(-17.71,110.4),(-17.53,110.8),(-17.32,104.0),(-17.01,101.5),(-16.8,99.0),(-16.56,95.6),(-16.41,94.4),(-16.11,94.9),(-15.9,93.8),(-15.66,91.5),(-15.42,92.6),(-15.12,92.9),(-14.9,92.2),(-14.69,96.4),(-14.51,100.4),(-14.3,103.0),(-14.09,107.7),(-13.85,111.7),(-13.61,112.3),(-13.4,111.0),(-13.19,107.7),(-12.95,105.1),(-12.71,104.0),(-12.4,103.5),(-12.19,101.7),(-11.98,102.6),(-11.8,107.7),(-11.59,112.8),(-11.38,115.7),(-11.14,116.8),(-10.84,117.9),(-10.59,116.1),(-10.29,115.0),(-9.93,115.4),(-9.69,113.5),(-9.48,111.3),(-9.27,109.5),(-9.03,111.0),(-8.87,108.1),(-8.66,104.8),(-8.42,100.8),(-8.18,97.8),(-7.82,97.7),(-7.46,97.8),(-7.22,103.3),(-6.92,103.7),(-6.67,106.2),(-6.37,108.8),(-6.16,108.2),(-5.95,105.9),(-5.71,103.9),(-5.47,103.7),(-5.17,104.8),(-4.87,105.1),(-4.56,105.5),(-4.26,106.2),(-4.05,110.6),(-3.84,109.2),(-3.54,107.5),(-3.3,105.3),(-3.0,105.5),(-2.69,106.1),(-2.45,106.4),(-2.24,108.6),(-2.03,110.6),(-1.79,111.7),(-1.55,113.2),(-1.34,112.3),(-1.13,109.2),(-0.89,105.1),(-0.65,101.9),(-0.43,99.7),(-0.22,97.8),(-0.04,96.7),(0.2,99.3),(0.38,101.9),(0.57,102.7),(0.87,102.9),(1.17,102.9),(1.47,103.3),(1.77,103.1),(2.01,103.7),(2.26,106.6),(2.47,108.2),(2.68,107.6),(2.92,105.0),(3.16,103.7),(3.46,102.9),(3.76,102.9),(4.06,103.9),(4.37,104.7),(4.67,105.0),(4.88,104.3),(5.09,102.9),(5.27,100.9),(5.48,98.8),(5.78,98.8),(6.08,99.5),(6.39,98.8),(6.54,98.2),(6.78,102.1),(6.99,104.3),(7.2,104.3),(7.44,102.1),(7.59,100.5),(7.8,101.7),(8.04,101.5),(8.2,100.5),(8.41,97.6),(8.59,94.8),(8.8,95.6),(9.1,96.4),(9.4,97.0),(9.7,97.2),(9.85,96.0),(10.0,102.1),(10.21,106.2),(10.46,108.2),(10.7,109.8),(10.91,111.9),(11.21,113.5),(11.42,113.7),(11.66,113.9),(11.9,112.7),(12.02,110.2),(12.2,108.0),(12.42,108.8),(12.63,109.2),(12.81,110.2),(13.02,107.4),(13.32,107.4),(13.47,111.1),(13.62,115.3),(13.83,114.3),(14.07,112.3),(14.22,110.2),(14.44,108.6),(14.68,108.2),(14.92,105.4),(15.13,101.5),(15.34,104.1),(15.52,107.8),(15.76,109.4),(16.03,109.8),(16.34,110.5),(16.64,110.1),(16.85,108.2),(17.09,107.0),(17.45,107.0),(17.69,105.8),(17.93,106.0),(18.14,106.6),(18.45,105.8),(18.6,104.1),(18.84,101.7),(19.05,102.1),(19.26,99.7),(19.5,97.6),(19.74,96.0),(19.95,94.0),(20.16,96.4),(20.4,95.6),(20.65,94.4),(20.86,97.2),(21.07,98.8),(21.31,100.5),(21.61,99.7),(21.85,103.3),(22.06,105.0),(22.36,106.0),(22.58,104.5),(22.88,105.2),(23.12,105.0),(23.36,104.1),(23.57,105.0),(23.78,106.4),(24.08,105.4),(24.38,106.0),(24.78,106.2),(25.08,105.0),(25.38,103.5),(25.68,103.1),(25.98,102.9),(26.13,101.7),(26.37,99.7),(26.59,100.1),(26.8,102.1),(27.04,103.7),(27.28,104.1),(27.49,106.0),(27.79,103.7),(28.0,102.1),(28.3,101.7),(28.54,103.3),(28.79,104.3),(29.09,104.7),(29.39,107.0),(29.69,104.5),(29.9,103.1),(30.2,104.1),(30.5,104.1),(30.81,104.3),(31.11,104.5),(31.41,108.0),(31.8,107.4),(32.01,105.6),(32.31,106.2),(32.61,106.6),(32.92,103.7),(33.22,102.7),(33.52,102.3),(33.82,101.3),(34.03,102.7),(34.27,103.1),(34.51,99.7),(34.82,102.1),(35.12,103.9),(35.48,103.7),(35.78,105.4),(36.02,107.0),(36.23,104.1),(36.44,100.5),(36.75,100.5),(36.99,101.9),(37.29,101.3),(37.53,103.7),(37.74,108.2),(38.04,110.5),(38.34,108.6),(38.64,107.4),(38.95,102.1),(39.25,102.1),(39.55,100.9),(39.7,104.9),(39.94,103.7),(40.24,99.7),(40.45,102.1),(40.75,104.9),(41.06,102.1),(41.36,102.1),(41.57,104.9),(41.81,110.7),(42.05,109.2),(42.26,105.8),(42.5,107.4),(42.71,105.4),(42.95,100.5),(43.17,97.2),(43.47,98.4),(43.77,100.5),(44.07,100.9),(44.28,103.7),(44.46,107.8),(44.58,110.9),(44.76,110.3)]

series_labels = ['As-rheocast', 'Solution at 470 \u00b0C for 6 h']
panel_labels = ['(a)', '(b)', '(c)']
x_label = 'Distance from the centre / \u00b5m'
y_label = 'Intensity / Counts'
x_range = (-60, 60)
y_ranges = [(50, 300), (600, 1100), (60, 140)]
y_major = [50, 100, 20]
y_minor = [25, 50, 10]

# ---------------- figure ----------------
fig = plt.figure(figsize=(12.1, 10.4867), dpi=300)
rects = [[0.0606, 0.5894, 0.4196, 0.3974],
         [0.5676, 0.5894, 0.4196, 0.3974],
         [0.3061, 0.0706, 0.4196, 0.3981]]
data = [(a_black, a_red), (b_black, b_red), (c_black, c_red)]

RED = '#ee1111'
MAJ_LEN, MIN_LEN, TW = 5.5, 3.2, 1.0

for i in range(3):
    ax = fig.add_axes(rects[i])
    blk, red = data[i]
    bx, by = zip(*blk)
    rx, ry = zip(*red)
    ax.plot(bx, by, color='black', lw=1.1, label=series_labels[0])
    ax.plot(rx, ry, color=RED, lw=1.1, label=series_labels[1])
    ax.set_xlim(*x_range)
    ax.set_ylim(*y_ranges[i])
    ax.xaxis.set_major_locator(MultipleLocator(20))
    ax.xaxis.set_minor_locator(MultipleLocator(10))
    ax.yaxis.set_major_locator(MultipleLocator(y_major[i]))
    ax.yaxis.set_minor_locator(MultipleLocator(y_minor[i]))
    ax.tick_params(which='both', direction='out', top=False, right=False,
                   width=TW, labelsize=9.5, pad=3)
    ax.tick_params(which='major', length=MAJ_LEN)
    ax.tick_params(which='minor', length=MIN_LEN)
    for s in ax.spines.values():
        s.set_linewidth(1.0)

    # inward ticks on the top and right spines
    axt = ax.twiny()
    axt.set_xlim(*x_range)
    axt.xaxis.set_major_locator(MultipleLocator(20))
    axt.xaxis.set_minor_locator(MultipleLocator(10))
    axt.tick_params(which='both', direction='in', top=True, bottom=False,
                    labeltop=False, labelbottom=False, width=TW)
    axt.tick_params(which='major', length=MAJ_LEN)
    axt.tick_params(which='minor', length=MIN_LEN)
    axr = ax.twinx()
    axr.set_ylim(*y_ranges[i])
    axr.yaxis.set_major_locator(MultipleLocator(y_major[i]))
    axr.yaxis.set_minor_locator(MultipleLocator(y_minor[i]))
    axr.tick_params(which='both', direction='in', right=True, left=False,
                    labelright=False, labelleft=False, width=TW)
    axr.tick_params(which='major', length=MAJ_LEN)
    axr.tick_params(which='minor', length=MIN_LEN)
    for a2 in (axt, axr):
        for s in a2.spines.values():
            s.set_linewidth(1.0)

    ax.set_xlabel(x_label, fontsize=13, va='center')
    ax.xaxis.set_label_coords(0.535, -0.13)
    ax.set_ylabel(y_label, fontsize=14, va='center')
    ax.yaxis.set_label_coords(-0.111, 0.556)

    ax.text(0.066, 0.915, panel_labels[i], transform=ax.transAxes,
            fontsize=20, ha='center', va='center')

    leg = ax.legend(loc='upper left', bbox_to_anchor=(0.525, 0.968),
                    frameon=False, fontsize=13.3, handlelength=0.92,
                    handletextpad=0.3, labelspacing=0.25, borderpad=0,
                    borderaxespad=0)
    for ln in leg.get_lines():
        ln.set_linewidth(1.2)
    leg.set_zorder(10)

fig.savefig('out.png', dpi=300)
